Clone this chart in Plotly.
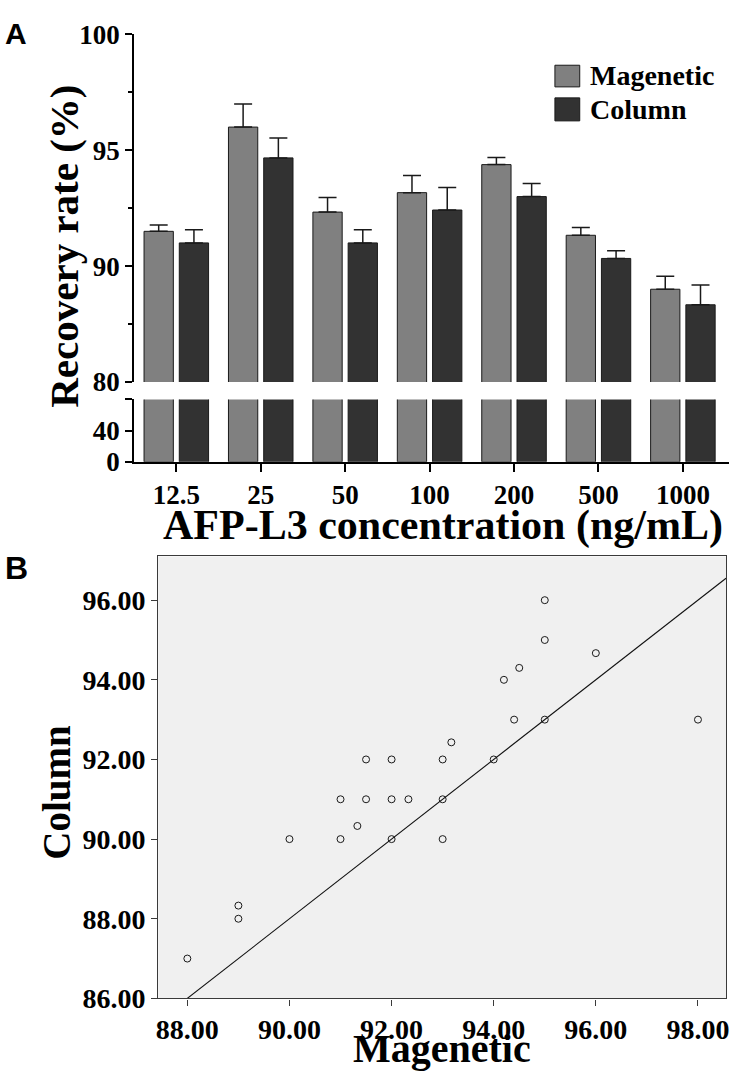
import plotly.graph_objects as go

# ---------------- data ----------------
concentrations = ["12.5", "25", "50", "100", "200", "500", "1000"]
magnetic_mean = [91.50, 96.00, 92.33, 93.17, 94.38, 91.33, 89.00]
magnetic_sd = [0.27, 1.00, 0.63, 0.74, 0.31, 0.34, 0.56]
column_mean = [91.00, 94.67, 91.00, 92.42, 93.00, 90.33, 88.33]
column_sd = [0.57, 0.86, 0.57, 0.97, 0.57, 0.33, 0.85]

top_tickvals = [85, 90, 95, 100]
top_ticktext = ["80", "90", "95", "100"]
top_minor = [87.5, 92.5, 97.5]
low_tickvals = [0, 40, 80]
low_ticktext = ["0", "40", ""]

scatter_magnetic = [88, 89, 89, 90, 91, 91, 91.33, 91.5, 91.5, 92, 92, 92.33, 92,
                    93, 93, 93, 93.17, 94, 94.4, 95, 94.2, 94.5, 95, 95, 96, 98]
scatter_column = [87, 88.33, 88, 90, 90, 91, 90.33, 92, 91, 92, 91, 91, 90,
                  92, 91, 90, 92.43, 92, 93, 93, 94, 94.3, 95, 96, 94.67, 93]
fit_slope = 1.0
fit_intercept = -2.0
b_xticks = [88, 90, 92, 94, 96, 98]
b_yticks = [86, 88, 90, 92, 94, 96]
b_xrange = [87.43, 98.55]
b_yrange = [86, 97.1]

# ---------------- helpers ----------------
W, H = 735, 1085
def PX(px):
    return px / W
def PY(py):
    return 1 - py / H

SERIF = "Liberation Serif"
SANS = "Liberation Sans"
MAG_COLOR = "#808080"
COL_COLOR = "#323232"
EDGE = "#1a1a1a"

fig = go.Figure()

# ---------------- panel A bars (upper and lower axis segments) ----------------
for yax, with_err in (("y", True), ("y2", False)):
    fig.add_trace(go.Bar(
        x=concentrations, y=magnetic_mean, xaxis="x", yaxis=yax,
        name="Magenetic", offsetgroup="mag", showlegend=False,
        marker=dict(color=MAG_COLOR, line=dict(color=EDGE, width=1)),
        error_y=dict(type="data", array=magnetic_sd, arrayminus=[0] * len(magnetic_sd),
                     symmetric=False, color=EDGE, thickness=1.5, width=9,
                     visible=with_err),
        hoverinfo="skip",
    ))
    fig.add_trace(go.Bar(
        x=concentrations, y=column_mean, xaxis="x", yaxis=yax,
        name="Column", offsetgroup="col", showlegend=False,
        marker=dict(color=COL_COLOR, line=dict(color=EDGE, width=1)),
        error_y=dict(type="data", array=column_sd, arrayminus=[0] * len(column_sd),
                     symmetric=False, color=EDGE, thickness=1.5, width=9,
                     visible=with_err),
        hoverinfo="skip",
    ))

# ---------------- panel B scatter ----------------
fig.add_trace(go.Scatter(
    x=scatter_magnetic, y=scatter_column, mode="markers", xaxis="x3", yaxis="y3",
    marker=dict(symbol="circle-open", size=7, color="#1a1a1a", line=dict(width=1)),
    showlegend=False,
))
fit_x = list(b_xrange)
fit_y = [fit_slope * v + fit_intercept for v in fit_x]
fig.add_trace(go.Scatter(
    x=fit_x, y=fit_y, mode="lines", xaxis="x3", yaxis="y3",
    line=dict(color="#111111", width=1.1), showlegend=False,
))

axis_font_a = dict(family=SERIF, size=27, color="black", weight="bold")
axis_font_b = dict(family=SERIF, size=28, color="black", weight="bold")

fig.update_layout(
    width=W, height=H, autosize=False,
    margin=dict(l=0, r=0, t=0, b=0, pad=0),
    paper_bgcolor="white", plot_bgcolor="rgba(0,0,0,0)",
    barmode="group", bargap=0.165, bargroupgap=0.169,
    showlegend=False,
    xaxis=dict(
        domain=[PX(133), PX(732.3)], anchor="y2", type="category",
        categoryorder="array", categoryarray=concentrations,
        range=[-0.5, 6.55], showline=True, linecolor="black", linewidth=2,
        ticks="outside", ticklen=8, tickwidth=2, tickcolor="black",
        tickfont=axis_font_a, showgrid=False, zeroline=False,
    ),
    yaxis=dict(
        domain=[PY(377.7), PY(20)], anchor="x", range=[85, 100],
        tickvals=top_tickvals, ticktext=top_ticktext,
        showline=True, linecolor="black", linewidth=2,
        ticks="outside", ticklen=7, tickwidth=2, tickcolor="black",
        minor=dict(tickvals=top_minor, ticks="outside", ticklen=4,
                   tickwidth=2, tickcolor="black", showgrid=False),
        tickfont=axis_font_a, showgrid=False, zeroline=False,
    ),
    yaxis2=dict(
        domain=[PY(460), PY(395.7)], anchor="x", range=[0, 80],
        tickvals=low_tickvals, ticktext=low_ticktext,
        showline=True, linecolor="black", linewidth=2,
        ticks="outside", ticklen=7, tickwidth=2, tickcolor="black",
        tickfont=axis_font_a, showgrid=False, zeroline=False,
    ),
    xaxis3=dict(
        domain=[PX(157.3), PX(729)], anchor="y3", range=b_xrange,
        tickvals=b_xticks, tickformat=".2f",
        showline=True, mirror=True, linecolor="#3a3a3a", linewidth=1.3,
        ticks="outside", ticklen=6, tickwidth=1.3, tickcolor="#3a3a3a",
        tickfont=axis_font_b, showgrid=False, zeroline=False,
    ),
    yaxis3=dict(
        domain=[PY(1012.3), PY(557.3)], anchor="x3", range=b_yrange,
        tickvals=b_yticks, tickformat=".2f",
        showline=True, mirror=True, linecolor="#3a3a3a", linewidth=1.3,
        ticks="outside", ticklen=6, tickwidth=1.3, tickcolor="#3a3a3a",
        tickfont=axis_font_b, showgrid=False, zeroline=False,
    ),
)

shapes = [
    dict(type="rect", xref="x3 domain", yref="y3 domain", x0=0, x1=1, y0=0, y1=1,
         fillcolor="#f0f0f0", line=dict(width=0), layer="below"),
    dict(type="rect", xref="paper", yref="paper",
         x0=PX(556.7), x1=PX(581.7), y0=PY(74), y1=PY(51.7),
         fillcolor=MAG_COLOR, line=dict(color=EDGE, width=1)),
    dict(type="rect", xref="paper", yref="paper",
         x0=PX(556.7), x1=PX(581.7), y0=PY(109), y1=PY(85.3),
         fillcolor=COL_COLOR, line=dict(color=EDGE, width=1)),
]
fig.update_layout(shapes=shapes)

def ann(text, x, y, size, family=SERIF, xanchor="center", yanchor="middle", angle=0):
    return dict(text=text, x=x, y=y, xref="paper", yref="paper", showarrow=False,
                xanchor=xanchor, yanchor=yanchor, textangle=angle,
                font=dict(family=family, size=size, color="black", weight="bold"))

annotations = [
    ann("A", PX(1), PY(19), 30, family=SANS, xanchor="left"),
    ann("B", PX(1), PY(569.5), 32, family=SANS, xanchor="left"),
    ann("Recovery rate (%)", PX(63), PY(238), 41, angle=-90),
    ann("AFP-L3 concentration (ng/mL)", PX(444.5), PY(525), 42),
    ann("Magenetic", PX(590), PY(62.7), 28, xanchor="left"),
    ann("Column", PX(590), PY(97.7), 28, xanchor="left"),
    ann("Column", PX(55), PY(800), 39, angle=-90),
    ann("Magenetic", PX(443), PY(1064), 40),
]
fig.update_layout(annotations=annotations)

fig.write_html(
    "out.html",
    config={"displayModeBar": False},
    post_script=(
        "var gd=document.getElementById('{plot_id}');"
        "gd.style.position='fixed';gd.style.left='0px';gd.style.top='0px';"
        "document.documentElement.style.margin='0';"
        "document.documentElement.style.overflow='hidden';"
        "document.body.style.margin='0';"
        "document.body.style.overflow='hidden';"
    ),
)
